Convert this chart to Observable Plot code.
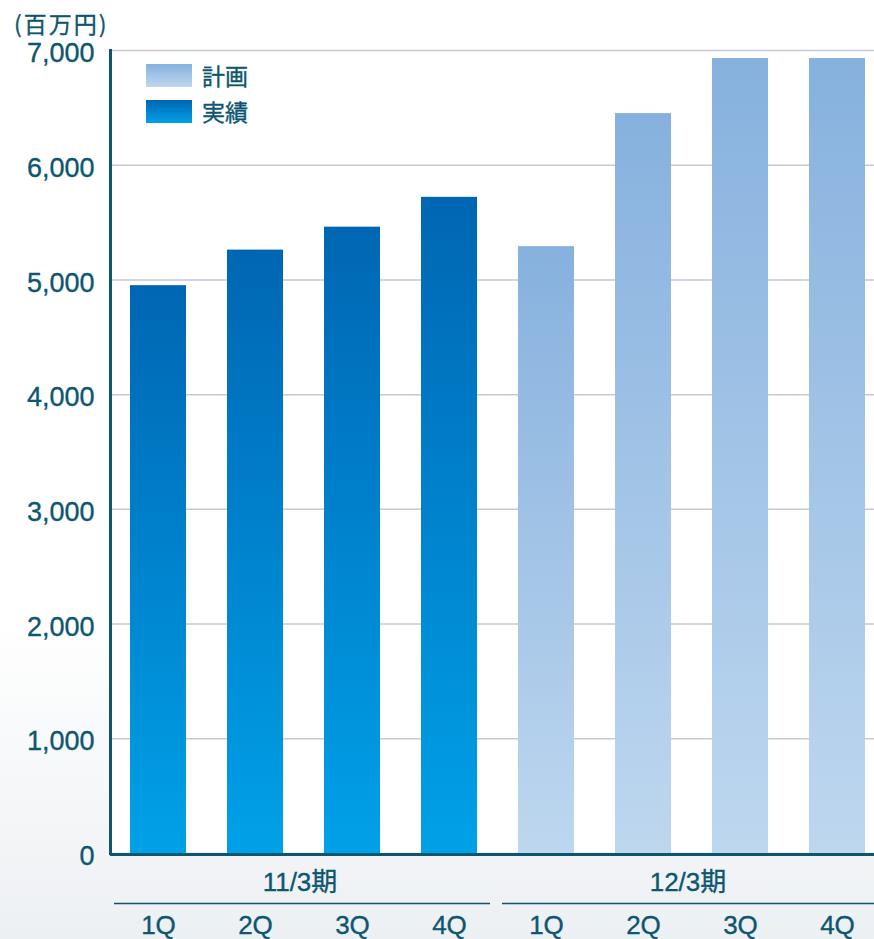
<!DOCTYPE html>
<html lang="ja">
<head>
<meta charset="utf-8">
<script src="https://cdn.jsdelivr.net/npm/d3@7"></script>
<script src="https://cdn.jsdelivr.net/npm/@observablehq/plot@0.6"></script>
<style>
  html, body { margin: 0; padding: 0; }
  body {
    width: 874px; height: 939px; overflow: hidden;
    background: linear-gradient(to bottom, #ffffff 0%, #ffffff 66%, #edf0f3 100%);
    font-family: "Liberation Sans", "Noto Sans CJK JP", sans-serif;
  }
  #wrap { position: relative; width: 874px; height: 939px; }
  #wrap svg { display: block; }
  #wrap svg text { stroke: #0d5670; stroke-width: 0.35px; paint-order: stroke; }
  #wrap svg .unit text { letter-spacing: 2px; }
  #legend { position: absolute; left: 146px; top: 64px; }
  .item { display: flex; align-items: center; height: 23px; margin-bottom: 13px; }
  .swatch { width: 46px; height: 23px; margin-right: 10px; }
  .label {
    font-size: 23px; color: #0d5670; line-height: 23px;
    font-family: "Noto Sans CJK JP", sans-serif;
    -webkit-text-stroke: 0.4px #0d5670;
  }
</style>
</head>
<body>
<div id="wrap">
  <div id="legend"></div>
</div>
<script>
// Quarterly figures: 11/3期 actuals, 12/3期 plan (百万円)
const periods = ["11/3期", "12/3期"];
const quarters = ["1Q", "2Q", "3Q", "4Q"];
const actual = [4950, 5260, 5460, 5720];
const plan = [5290, 6450, 6930, 6930];
const yTicks = [0, 1000, 2000, 3000, 4000, 5000, 6000, 7000];
const unitLabel = "(百万円)";
const seriesNames = ["計画", "実績"];

const ink = "#0d5670";
const gradients = {
  plan: ["#86b1de", "#bed7ef"],
  actual: ["#0066b3", "#00a1e8"]
};

const key = (p, q) => `${p} ${q}`;
const actualRows = quarters.map((q, i) => ({period: periods[0], quarter: q, key: key(periods[0], q), value: actual[i]}));
const planRows = quarters.map((q, i) => ({period: periods[1], quarter: q, key: key(periods[1], q), value: plan[i]}));
const rows = actualRows.concat(planRows);
const domain = rows.map(d => d.key);

const xRange = [110, 886];
const step = (xRange[1] - xRange[0]) / domain.length;

const chart = Plot.plot({
  width: 874,
  height: 939,
  marginTop: 50,
  marginBottom: 86,
  marginLeft: 110,
  marginRight: 0,
  style: {background: "transparent", fontFamily: "'Liberation Sans', 'Noto Sans CJK JP', sans-serif", color: ink},
  x: {type: "band", domain, range: xRange, paddingInner: 0.42, paddingOuter: 0.21, axis: null},
  y: {domain: [0, 7000], axis: null},
  marks: [
    Plot.frame({fill: "white", stroke: null}),
    Plot.gridY(yTicks, {stroke: "#c6c8d5", strokeOpacity: 1, strokeWidth: 1.5}),
    Plot.barY(actualRows, {x: "key", y: "value", fill: "url(#grad-actual)"}),
    Plot.barY(planRows, {x: "key", y: "value", fill: "url(#grad-plan)"}),
    Plot.frame({anchor: "left", stroke: ink, strokeWidth: 3}),
    Plot.ruleY([0], {stroke: ink, strokeWidth: 3, dy: 1}),
    Plot.axisY(yTicks, {
      tickSize: 0, tickPadding: 16, tickFormat: d3.format(","),
      fontSize: 27, fill: ink, label: null, dy: 3
    }),
    Plot.text([unitLabel], {
      frameAnchor: "top-left", lineAnchor: "middle", textAnchor: "end", dx: -2, dy: -25,
      fontSize: 23, fill: ink, fontFamily: "'Noto Sans CJK JP', sans-serif", className: "unit"
    }),
    Plot.ruleY(periods, {
      x1: p => key(p, quarters[0]), x2: p => key(p, quarters[3]), y: 0, dy: 50,
      insetLeft: -16, insetRight: -13, stroke: ink, strokeWidth: 1.5
    }),
    Plot.text(periods, {
      x: p => key(p, quarters[1]), text: d => d, frameAnchor: "bottom", lineAnchor: "middle",
      dy: 29, dx: step / 2 - 4, fontSize: 26, fill: ink
    }),
    Plot.text(rows, {
      x: "key", text: "quarter", frameAnchor: "bottom", lineAnchor: "middle",
      dy: 72, fontSize: 26, fill: ink
    })
  ]
});

// vertical gradients applied per bar
const defs = d3.select(chart).insert("defs", ":first-child");
for (const [name, [top, bottom]] of Object.entries(gradients)) {
  const g = defs.append("linearGradient")
    .attr("id", `grad-${name}`)
    .attr("x1", 0).attr("y1", 0).attr("x2", 0).attr("y2", 1);
  g.append("stop").attr("offset", "0%").attr("stop-color", top);
  g.append("stop").attr("offset", "100%").attr("stop-color", bottom);
}

const wrap = document.getElementById("wrap");
wrap.insertBefore(chart, wrap.firstChild);

// legend: 計画, 実績
const legend = d3.select("#legend");
const legendKeys = ["plan", "actual"];
seriesNames.forEach((name, i) => {
  const [top, bottom] = gradients[legendKeys[i]];
  const item = legend.append("div").attr("class", "item");
  item.append("div").attr("class", "swatch")
    .style("background", `linear-gradient(to bottom, ${top}, ${bottom})`);
  item.append("div").attr("class", "label").text(name);
});
</script>
</body>
</html>
